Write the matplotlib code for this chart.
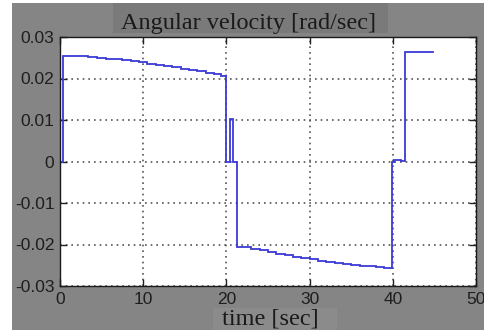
import matplotlib
matplotlib.use("Agg")
import matplotlib.pyplot as plt
from matplotlib.patches import Rectangle

# ---- data ----
time_s = [0.0, 0.4, 3.4, 4.5, 5.5, 6.6, 7.5, 8.5, 9.5, 10.5, 11.5, 12.5, 13.5, 14.5,
          15.5, 16.5, 17.5, 18.5, 19.3, 20.0, 20.43, 20.8, 21.3,
          22.0, 23.0, 24.0, 25.0, 26.0, 27.0, 28.0, 29.0, 30.0, 31.0, 32.0, 33.0,
          34.0, 35.0, 36.0, 37.0, 38.0, 39.0, 39.95, 40.2, 41.0, 41.5, 44.8]
omega = [0.0, 0.0254, 0.0251, 0.0250, 0.0248, 0.0246, 0.0244, 0.0242, 0.0239, 0.0236,
         0.0233, 0.0230, 0.0227, 0.0224, 0.0221, 0.0218, 0.0214, 0.0210, 0.0206, 0.0,
         0.0102, 0.0, -0.0205,
         -0.0207, -0.0210, -0.0214, -0.0218, -0.0222, -0.0225, -0.0229, -0.0233,
         -0.0236, -0.0239, -0.0242, -0.0245, -0.0247, -0.0249, -0.0251, -0.0253,
         -0.0255, -0.0257, 0.0, 0.0004, 0.0001, 0.0264, 0.0264]

x_ticks = [0, 10, 20, 30, 40, 50]
y_ticks = [-0.03, -0.02, -0.01, 0, 0.01, 0.02, 0.03]
y_tick_labels = ["-0.03", "-0.02", "-0.01", "0", "0.01", "0.02", "0.03"]
title_text = "Angular velocity [rad/sec]"
xlabel_text = "time [sec]"

W, H = 485, 330
fig = plt.figure(figsize=(W / 100, H / 100), dpi=100, facecolor="white")

bg = "#858585"
fig.patches.append(Rectangle((12 / W, 0), (W - 12) / W, (H - 3) / H,
                             transform=fig.transFigure, facecolor=bg,
                             edgecolor="none", zorder=-10))
# title background
fig.patches.append(Rectangle((113 / W, 1 - 33 / H), (388 - 113) / W, 30 / H,
                             transform=fig.transFigure, facecolor="#7a7a7a",
                             edgecolor="none", zorder=-9))
# xlabel background
fig.patches.append(Rectangle((213 / W, 0), (337 - 213) / W, 22 / H,
                             transform=fig.transFigure, facecolor="#8b8b8b",
                             edgecolor="none", zorder=-9))

ax = fig.add_axes([60 / W, (H - 286) / H, 416 / W, (286 - 37) / H])
ax.set_facecolor("white")

ax.plot(time_s, omega, drawstyle="steps-post", color="#3a3ad6", lw=1.3,
        solid_joinstyle="miter")

ax.set_xlim(0, 50)
ax.set_ylim(-0.03, 0.03)
ax.set_xticks(x_ticks)
ax.set_yticks(y_ticks)
ax.set_yticklabels(y_tick_labels)

tick_font = dict(family="Liberation Sans", size=12.5)
for lab in ax.get_xticklabels() + ax.get_yticklabels():
    lab.set_fontfamily("Liberation Sans")
    lab.set_fontsize(12.5)
    lab.set_color("#1e1e1e")

ax.tick_params(direction="in", length=5, width=1, top=True, right=True,
               color="#222222", pad=4)

ax.grid(True, color="#555555", linestyle=(0, (1, 2.4)), lw=1.2)
for s in ax.spines.values():
    s.set_color("#1a1a1a")
    s.set_linewidth(1.0)

fig.text(249 / W, 1 - 28.5 / H, title_text, ha="center", va="baseline",
         family="Liberation Serif", fontsize=17.5, color="#1a1a1a")
fig.text(270 / W, 1 - 325 / H, xlabel_text, ha="center", va="baseline",
         family="Liberation Serif", fontsize=17.5, color="#1a1a1a")

fig.savefig("out.png", dpi=100, facecolor=fig.get_facecolor())
